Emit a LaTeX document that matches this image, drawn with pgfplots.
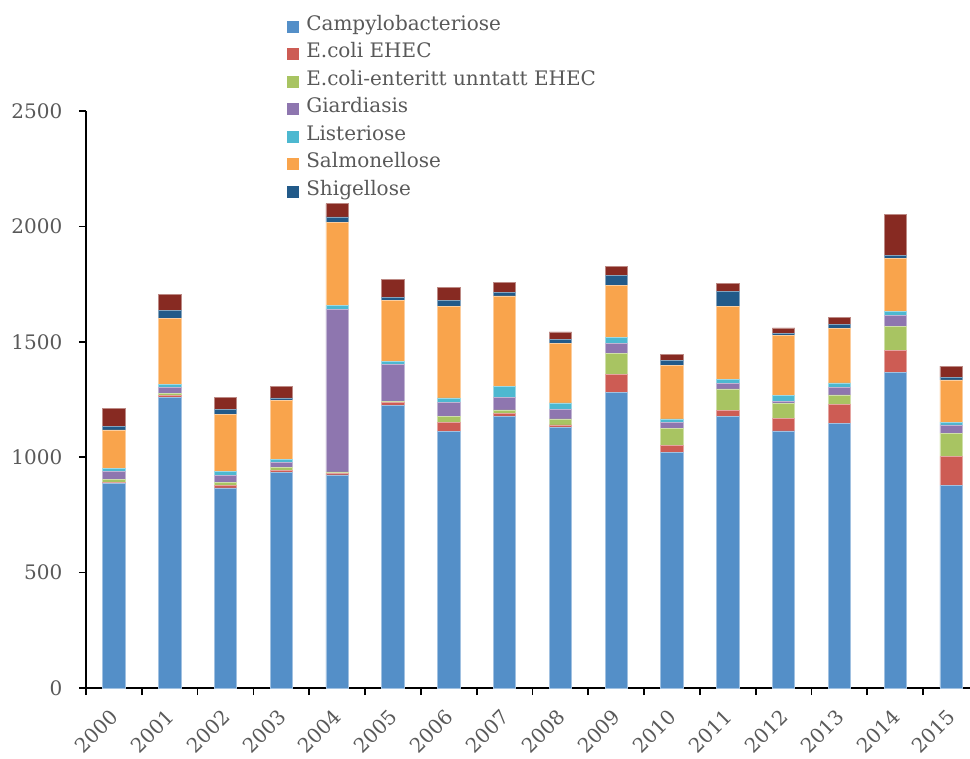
\documentclass[border=0pt]{standalone}
\usepackage{fontspec}
\setmainfont{DejaVu Serif}
\usepackage{pgfplots}
\usepackage{pgfplotstable}
\pgfplotsset{compat=1.18}
\definecolor{cCamp}{HTML}{548FC8}
\definecolor{cEhec}{HTML}{CD5C54}
\definecolor{cEnt}{HTML}{A8C462}
\definecolor{cGiar}{HTML}{8E76AF}
\definecolor{cList}{HTML}{4DB8D0}
\definecolor{cSalm}{HTML}{F9A44C}
\definecolor{cShig}{HTML}{225A89}
\definecolor{cOth}{HTML}{872A22}
\definecolor{txt}{HTML}{595959}
\pgfplotstableread{
x camp ehec ent giar list salm shig oth
0 887 3 12 36 14 166 14 79
1 1260 7 10 26 14 286 32 72
2 867 10 12 33 16 249 19 53
3 935 7 12 23 15 253 12 48
4 923 7 6 706 14 361 24 58
5 1225 11 6 159 13 264 13 81
6 1111 41 26 59 20 396 26 56
7 1175 14 16 53 48 393 14 43
8 1128 12 26 42 27 259 17 32
9 1280 80 89 43 26 225 45 37
10 1020 32 71 27 16 231 22 28
11 1175 29 92 23 19 315 67 33
12 1114 55 63 10 24 262 10 22
13 1147 81 42 33 19 235 17 33
14 1367 95 103 49 17 231 13 178
15 878 126 100 36 12 183 12 48
}\data
\begin{document}
\begin{tikzpicture}
\begin{axis}[
  at={(0,0)}, anchor=south west,
  scale only axis, width=663pt, height=432.75pt,
  ybar stacked, bar width=0.4,
  xmin=-0.5, xmax=15.34, ymin=0, ymax=2500,
  axis x line*=bottom, axis y line*=left,
  axis line style={-, line width=1.3pt, black},
  xtick={0,...,15},
  xticklabels={2000,2001,2002,2003,2004,2005,2006,2007,2008,2009,2010,2011,2012,2013,2014,2015},
  major x tick style={draw=none},
  minor xtick={-0.5,0.5,...,14.5},
  minor x tick style={line width=1.3pt, black},
  minor tick length=5.25pt,
  ytick={0,500,...,2500},
  major tick length=5.25pt,
  tick align=outside,
  ytick style={line width=1.3pt, black},
  /pgf/number format/assume math mode=true,
  /pgf/number format/1000 sep={},
  tick label style={font=\fontsize{15pt}{18pt}\selectfont, text=txt},
  yticklabel style={xshift=-9pt},
  xticklabel style={xshift=3pt, yshift=-11.5pt, rotate=45, anchor=east},
  legend style={at={(0.2274,1.170)}, anchor=north west, draw=none, fill=none,
    inner sep=0pt, column sep=5.25pt, row sep=0pt,
    font=\fontsize{15pt}{18pt}\selectfont, text=txt,
    nodes={inner sep=0pt, text height=13pt, text depth=7.6pt}},
  legend cell align=left,
  legend image code/.code={\path[#1, draw=none] (0pt,-4.5pt) rectangle (9pt,4.5pt);},
]
\addplot[fill=cCamp, draw=cCamp!55!white, line width=0.5pt] table[x=x, y=camp] {\data};
\addplot[fill=cEhec, draw=cEhec!55!white, line width=0.5pt] table[x=x, y=ehec] {\data};
\addplot[fill=cEnt, draw=cEnt!55!white, line width=0.5pt] table[x=x, y=ent] {\data};
\addplot[fill=cGiar, draw=cGiar!55!white, line width=0.5pt] table[x=x, y=giar] {\data};
\addplot[fill=cList, draw=cList!55!white, line width=0.5pt] table[x=x, y=list] {\data};
\addplot[fill=cSalm, draw=cSalm!55!white, line width=0.5pt] table[x=x, y=salm] {\data};
\addplot[fill=cShig, draw=cShig!55!white, line width=0.5pt] table[x=x, y=shig] {\data};
\addplot[fill=cOth, draw=cOth!55!white, line width=0.5pt] table[x=x, y=oth] {\data};
\legend{Campylobacteriose, E.coli EHEC, E.coli-enteritt unntatt EHEC, Giardiasis, Listeriose, Salmonellose, Shigellose}
\end{axis}
\pgfresetboundingbox
\path (-64.5pt,-52.5pt) rectangle (663pt,516pt);
\end{tikzpicture}
\end{document}
